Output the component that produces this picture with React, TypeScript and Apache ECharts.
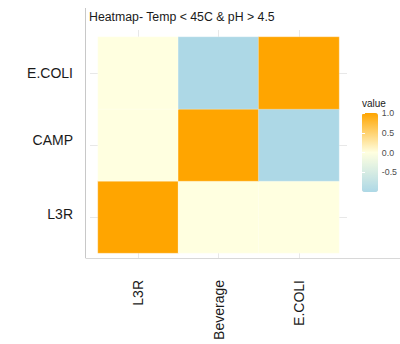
import React, { useEffect, useRef } from "react";
import * as echarts from "echarts";

const xCategories = ["L3R", "Beverage", "E.COLI"];
const yCategories = ["L3R", "CAMP", "E.COLI"];
// rows follow yCategories (bottom to top), columns follow xCategories
const rowL3R = [1, 0, 0];
const rowCAMP = [0, 1, -1];
const rowECOLI = [0, -1, 1];
const legendTicks = [-0.5, 0, 0.5, 1.0];
const valueMin = -1;
const valueMax = 1;
const titleText = "Heatmap- Temp < 45C & pH > 4.5";

const FONT = "'Liberation Sans', Arial, sans-serif";
const GRID_COLOR = "#e8e8e8";

export default function App() {
  const ref = useRef<HTMLDivElement>(null);
  useEffect(() => {
    if (!ref.current) return;
    const chart = echarts.init(ref.current, undefined, { renderer: "svg" });
    const rows = [rowL3R, rowCAMP, rowECOLI];
    const data: [number, number, number][] = [];
    rows.forEach((row, yi) => row.forEach((v, xi) => data.push([xi, yi, v])));

    const yLabelStyle = { fontSize: 14, color: "#1a1a1a", fontFamily: FONT };

    chart.setOption({
      animation: false,
      backgroundColor: "#ffffff",
      textStyle: { fontFamily: FONT },
      title: [
        {
          text: titleText,
          left: 89,
          top: 11,
          padding: 0,
          textStyle: { fontSize: 12.3, fontWeight: "normal", color: "#1a1a1a", fontFamily: FONT },
        },
        {
          text: "value",
          left: 362,
          top: 98,
          padding: 0,
          textStyle: { fontSize: 10, fontWeight: "normal", color: "#1a1a1a", fontFamily: FONT },
        },
      ],
      grid: [
        { left: 98, top: 37, width: 241, height: 216 },
        { left: 138, top: 30, width: 161, height: 228 },
        { left: 90, top: 73, width: 257, height: 144 },
        { left: 362, top: 113, width: 16, height: 79 },
      ],
      xAxis: [
        {
          type: "category",
          gridIndex: 0,
          data: xCategories,
          axisLine: { show: false },
          axisTick: { show: false },
          splitLine: { show: false },
          axisLabel: { rotate: 90, margin: 27, fontSize: 14, color: "#1a1a1a", fontFamily: FONT, interval: 0 },
        },
        {
          type: "category",
          gridIndex: 1,
          data: xCategories,
          boundaryGap: false,
          axisLine: { show: false },
          axisTick: { show: false },
          axisLabel: { show: false },
          splitLine: { show: true, interval: 0, lineStyle: { color: GRID_COLOR, width: 1 } },
        },
        { type: "value", gridIndex: 2, show: false },
        { type: "value", gridIndex: 3, show: false },
      ],
      yAxis: [
        {
          type: "category",
          gridIndex: 0,
          data: yCategories,
          axisLine: { show: false },
          axisTick: { show: false },
          splitLine: { show: false },
          axisLabel: {
            margin: 25,
            interval: 0,
            ...yLabelStyle,
            formatter: (v: string) => {
              if (v === "CAMP") return `{up5|${v}}`;
              if (v === "L3R") return `{up3|${v}}`;
              return `{n|${v}}`;
            },
            rich: {
              n: { ...yLabelStyle },
              up5: { ...yLabelStyle, padding: [0, 0, 10, 0] },
              up3: { ...yLabelStyle, padding: [0, 0, 6, 0] },
            },
          },
        },
        { type: "value", gridIndex: 1, show: false },
        {
          type: "category",
          gridIndex: 2,
          data: yCategories,
          boundaryGap: false,
          axisLine: { show: false },
          axisTick: { show: false },
          axisLabel: { show: false },
          splitLine: { show: true, interval: 0, lineStyle: { color: GRID_COLOR, width: 1 } },
        },
        {
          type: "value",
          gridIndex: 3,
          position: "right",
          min: valueMin,
          max: valueMax,
          interval: 0.5,
          z: 10,
          axisLine: { show: false },
          splitLine: { show: false },
          axisTick: {
            show: true,
            inside: true,
            length: 3,
            customValues: legendTicks,
            lineStyle: { color: "#ffffff", width: 1 },
          },
          axisLabel: {
            margin: 5,
            fontSize: 8.8,
            color: "#4d4d4d",
            fontFamily: FONT,
            customValues: legendTicks,
            formatter: (v: number) => v.toFixed(1),
          },
        },
        {
          type: "value",
          gridIndex: 3,
          position: "left",
          min: valueMin,
          max: valueMax,
          interval: 0.5,
          z: 10,
          axisLine: { show: false },
          splitLine: { show: false },
          axisLabel: { show: false },
          axisTick: {
            show: true,
            inside: true,
            length: 3,
            customValues: legendTicks,
            lineStyle: { color: "#ffffff", width: 1 },
          },
        },
      ],
      visualMap: {
        type: "continuous",
        min: valueMin,
        max: valueMax,
        calculable: false,
        left: 362,
        top: 113,
        itemWidth: 16,
        itemHeight: 79,
        padding: 0,
        text: ["", ""],
        showLabel: false,
        seriesIndex: 0,
        inRange: { color: ["#ADD8E6", "#FFFFE0", "#FFA500"] },
      },
      graphic: [
        {
          type: "line",
          shape: { x1: 85.5, y1: 8, x2: 85.5, y2: 258 },
          style: { stroke: "#c8c8c8", lineWidth: 1 },
          silent: true,
        },
        {
          type: "line",
          shape: { x1: 85.5, y1: 258.5, x2: 400, y2: 258.5 },
          style: { stroke: "#d8d8d8", lineWidth: 1 },
          silent: true,
        },
      ],
      series: [
        {
          type: "heatmap",
          xAxisIndex: 0,
          yAxisIndex: 0,
          data,
          itemStyle: { borderColor: "rgba(255,255,255,0.5)", borderWidth: 0.5 },
          label: { show: false },
        },
      ],
    });
    return () => chart.dispose();
  }, []);
  return (
    <div
      ref={ref}
      style={{ position: "fixed", left: 0, top: 0, width: 400, height: 344, background: "#fff" }}
    />
  );
}
